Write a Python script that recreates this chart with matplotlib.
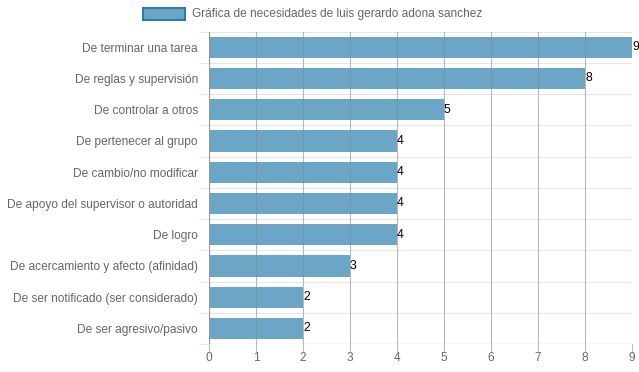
import matplotlib.pyplot as plt
from matplotlib.patches import Rectangle

plt.rcParams['font.family'] = ['Liberation Sans', 'DejaVu Sans']

categories = ["De terminar una tarea", "De reglas y supervisión", "De controlar a otros",
              "De pertenecer al grupo", "De cambio/no modificar",
              "De apoyo del supervisor o autoridad", "De logro",
              "De acercamiento y afecto (afinidad)", "De ser notificado (ser considerado)",
              "De ser agresivo/pasivo"]
values = [9, 8, 5, 4, 4, 4, 4, 3, 2, 2]
legend_label = "Gráfica de necesidades de luis gerardo adona sanchez"

W, H = 639, 372
fig = plt.figure(figsize=(W / 100, H / 100), dpi=100)
ax = fig.add_axes([209 / W, 1 - 344 / H, (632 - 209) / W, (344 - 31.5) / H])

n = len(categories)
pos = list(range(n))
ax.barh(pos, values, height=0.68, color='#3a88b5', alpha=0.75, zorder=1)
for p, v in zip(pos, values):
    ax.text(v, p, str(v), ha='left', va='center', fontsize=8.7, color='black')

ax.set_ylim(n - 0.5, -0.5)
ax.set_xlim(0, 9)
ax.set_xticks(range(10))
ax.set_yticks(pos)
ax.set_yticklabels(categories)
ax.tick_params(axis='both', labelsize=8.6, colors='#666666', length=0)
ax.tick_params(axis='y', pad=8)
ax.tick_params(axis='x', pad=6)

for x in range(10):
    ax.axvline(x, color='#8a8a8a', lw=0.8, alpha=0.6, zorder=2)
    ax.plot([x, x], [n - 0.5, n - 0.5 + 0.22], color='#bbbbbb', lw=0.8, clip_on=False)
for k in range(n + 1):
    y = k - 0.5
    ax.axhline(y, color='#e6e6e6', lw=0.8, zorder=0)
    ax.plot([-0.22, 0], [y, y], color='#e6e6e6', lw=0.8, clip_on=False)

for s in ax.spines.values():
    s.set_visible(False)
ax.axhline(n - 0.5, color='#999999', lw=0.8, zorder=3)
ax.axvline(0, color='#999999', lw=0.8, zorder=3)

fig.patches.append(Rectangle((143 / W, 1 - 20 / H), 42 / W, 12 / H, transform=fig.transFigure,
                             facecolor='#6aa6c6', edgecolor='#2f7aa6', lw=1.5))
fig.text(192 / W, 1 - 14 / H, legend_label, fontsize=8.6, color='#666666', va='center', ha='left')

fig.savefig('out.png', dpi=100)
